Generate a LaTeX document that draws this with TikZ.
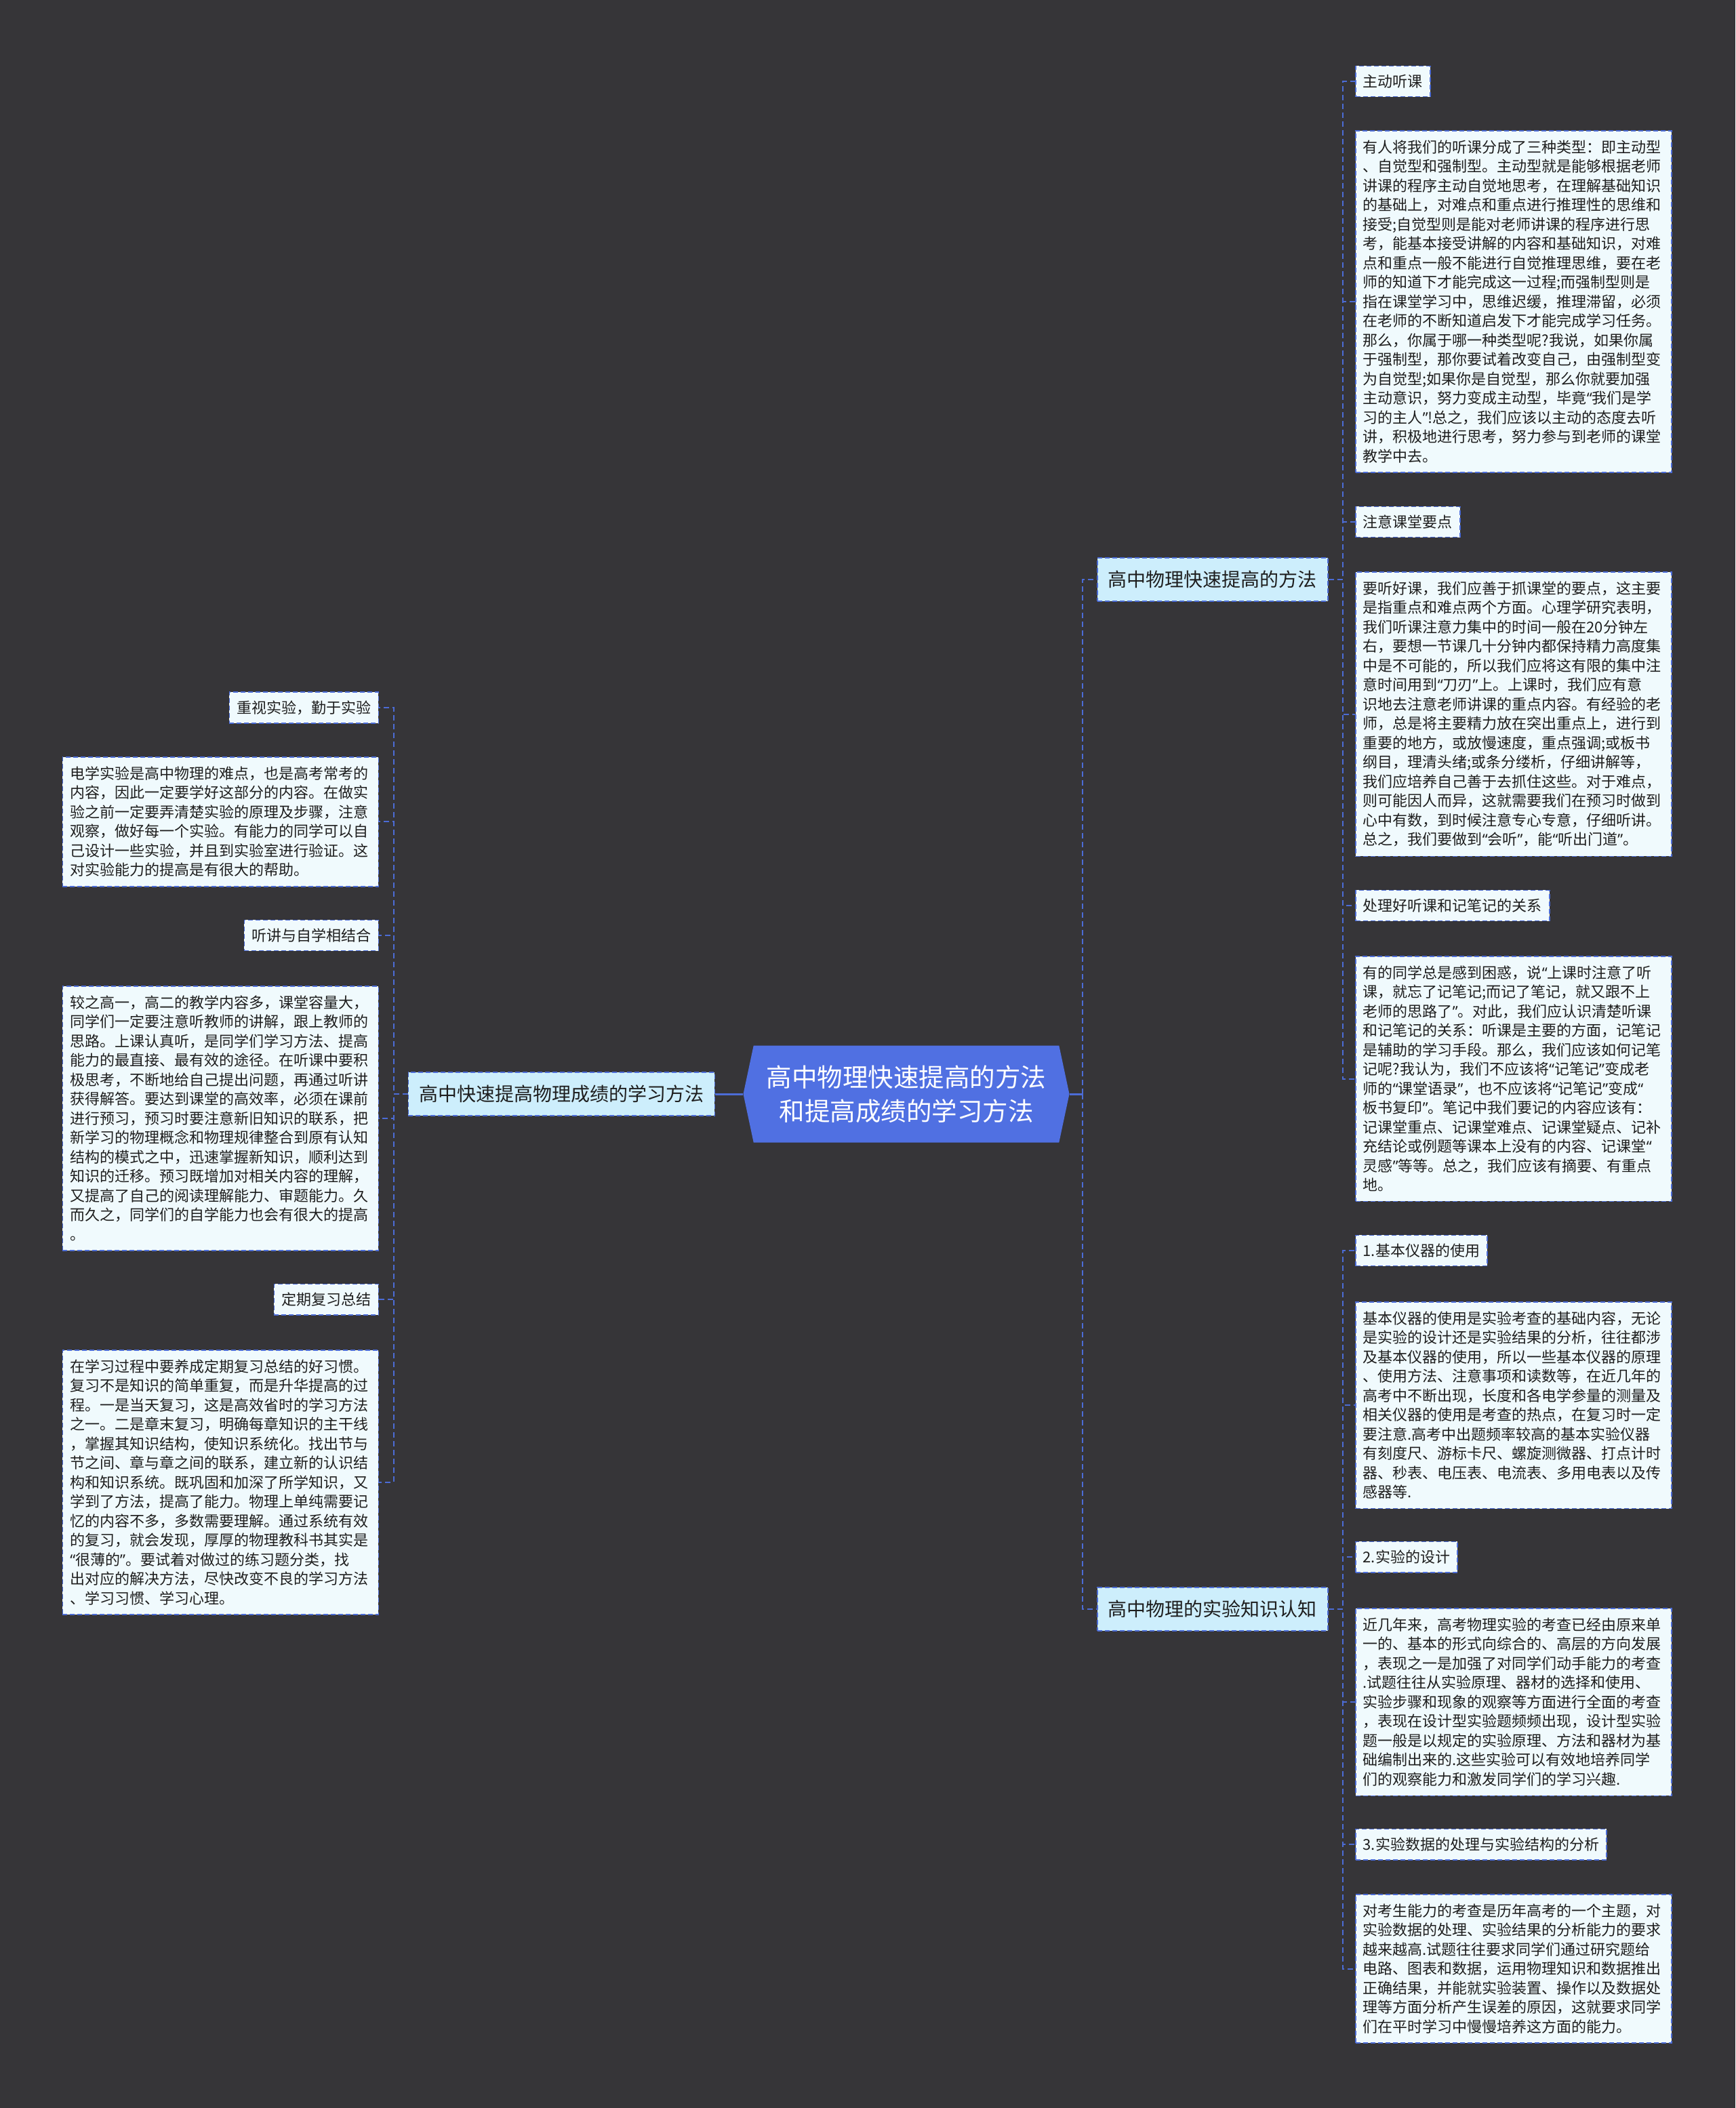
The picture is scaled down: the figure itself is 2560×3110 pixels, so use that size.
\documentclass[tikz,border=0pt]{standalone}
\usepackage{fontspec}
\setmainfont{Noto Sans CJK SC}
\newfontfamily\quotefont{Noto Sans}
\newcommand\qo{{\quotefont “}}
\newcommand\qc{{\quotefont ”}}
\usetikzlibrary{shapes.symbols}

\definecolor{bgdark}{RGB}{54,53,56}
\definecolor{lineblue}{RGB}{76,108,214}
\definecolor{rootblue}{RGB}{80,112,226}
\definecolor{branchfill}{RGB}{205,238,252}
\definecolor{leaffill}{RGB}{240,250,253}
\definecolor{inkdark}{RGB}{30,30,30}

\tikzset{
  leaf/.style={draw=lineblue, dash pattern=on 7pt off 4pt, line width=1.5pt,
    fill=leaffill, text=inkdark, inner xsep=11pt, inner ysep=12.5pt,
    font=\fontsize{22}{28.5}\selectfont},
  note/.style={leaf, text width=444pt, align=left, inner xsep=11pt, inner ysep=14pt},
  branch/.style={leaf, fill=branchfill, inner xsep=16pt, inner ysep=19pt,
    font=\fontsize{28}{34}\selectfont},
  link/.style={draw=lineblue, dash pattern=on 8pt off 5pt, line width=2pt},
  trunk/.style={draw=lineblue, line width=3pt},
}

\begin{document}
\begin{tikzpicture}[x=1pt, y=-1pt]
  \path[use as bounding box, fill=bgdark] (0,0) rectangle (2560,3110);

  % Mitte
  \node[shape=signal, signal to=east and west, signal pointer angle=156,
        fill=rootblue, text=white, minimum width=481pt, minimum height=143pt,
        align=center, font=\fontsize{37.5}{50}\selectfont] (root) at (1337,1614)
       {高中物理快速提高的方法\\和提高成绩的学习方法};

  % Zweige
  \node[branch, anchor=west] (fangfa) at (1618,855) {高中物理快速提高的方法};
  \node[branch, anchor=west] (renzhi) at (1618,2374) {高中物理的实验知识认知};
  \node[branch, anchor=east] (chengji) at (1055,1614) {高中快速提高物理成绩的学习方法};

  % rechts oben
  \node[leaf, anchor=west] (tingke) at (1999,120) {主动听课};
  \node[note, anchor=north west] (tingkeT) at (1999,192) {%
有人将我们的听课分成了三种类型：即主动型\\
、自觉型和强制型。主动型就是能够根据老师\\
讲课的程序主动自觉地思考，在理解基础知识\\
的基础上，对难点和重点进行推理性的思维和\\
接受;自觉型则是能对老师讲课的程序进行思\\
考，能基本接受讲解的内容和基础知识，对难\\
点和重点一般不能进行自觉推理思维，要在老\\
师的知道下才能完成这一过程;而强制型则是\\
指在课堂学习中，思维迟缓，推理滞留，必须\\
在老师的不断知道启发下才能完成学习任务。\\
那么，你属于哪一种类型呢?我说，如果你属\\
于强制型，那你要试着改变自己，由强制型变\\
为自觉型;如果你是自觉型，那么你就要加强\\
主动意识，努力变成主动型，毕竟\qo{}我们是学\\
习的主人\qc{}!总之，我们应该以主动的态度去听\\
讲，积极地进行思考，努力参与到老师的课堂\\
教学中去。};
  \node[leaf, anchor=west] (yaodian) at (1999,770) {注意课堂要点};
  \node[note, anchor=north west] (yaodianT) at (1999,843) {%
要听好课，我们应善于抓课堂的要点，这主要\\
是指重点和难点两个方面。心理学研究表明，\\
我们听课注意力集中的时间一般在20分钟左\\
右，要想一节课几十分钟内都保持精力高度集\\
中是不可能的，所以我们应将这有限的集中注\\
意时间用到\qo{}刀刃\qc{}上。上课时，我们应有意\\
识地去注意老师讲课的重点内容。有经验的老\\
师，总是将主要精力放在突出重点上，进行到\\
重要的地方，或放慢速度，重点强调;或板书\\
纲目，理清头绪;或条分缕析，仔细讲解等，\\
我们应培养自己善于去抓住这些。对于难点，\\
则可能因人而异，这就需要我们在预习时做到\\
心中有数，到时候注意专心专意，仔细听讲。\\
总之，我们要做到\qo{}会听\qc{}，能\qo{}听出门道\qc{}。};
  \node[leaf, anchor=west] (biji) at (1999,1336) {处理好听课和记笔记的关系};
  \node[note, anchor=north west] (bijiT) at (1999,1410) {%
有的同学总是感到困惑，说\qo{}上课时注意了听\\
课，就忘了记笔记;而记了笔记，就又跟不上\\
老师的思路了\qc{}。对此，我们应认识清楚听课\\
和记笔记的关系：听课是主要的方面，记笔记\\
是辅助的学习手段。那么，我们应该如何记笔\\
记呢?我认为，我们不应该将\qo{}记笔记\qc{}变成老\\
师的\qo{}课堂语录\qc{}，也不应该将\qo{}记笔记\qc{}变成\qo\\
板书复印\qc{}。笔记中我们要记的内容应该有：\\
记课堂重点、记课堂难点、记课堂疑点、记补\\
充结论或例题等课本上没有的内容、记课堂\qo\\
灵感\qc{}等等。总之，我们应该有摘要、有重点\\
地。};

  % rechts unten
  \node[leaf, anchor=west] (yiqi) at (1999,1845) {1.基本仪器的使用};
  \node[note, anchor=north west] (yiqiT) at (1999,1920) {%
基本仪器的使用是实验考查的基础内容，无论\\
是实验的设计还是实验结果的分析，往往都涉\\
及基本仪器的使用，所以一些基本仪器的原理\\
、使用方法、注意事项和读数等，在近几年的\\
高考中不断出现，长度和各电学参量的测量及\\
相关仪器的使用是考查的热点，在复习时一定\\
要注意.高考中出题频率较高的基本实验仪器\\
有刻度尺、游标卡尺、螺旋测微器、打点计时\\
器、秒表、电压表、电流表、多用电表以及传\\
感器等.};
  \node[leaf, anchor=west] (sheji) at (1999,2297) {2.实验的设计};
  \node[note, anchor=north west] (shejiT) at (1999,2372) {%
近几年来，高考物理实验的考查已经由原来单\\
一的、基本的形式向综合的、高层的方向发展\\
，表现之一是加强了对同学们动手能力的考查\\
.试题往往从实验原理、器材的选择和使用、\\
实验步骤和现象的观察等方面进行全面的考查\\
，表现在设计型实验题频频出现，设计型实验\\
题一般是以规定的实验原理、方法和器材为基\\
础编制出来的.这些实验可以有效地培养同学\\
们的观察能力和激发同学们的学习兴趣.};
  \node[leaf, anchor=west] (shuju) at (1999,2721) {3.实验数据的处理与实验结构的分析};
  \node[note, anchor=north west] (shujuT) at (1999,2794) {%
对考生能力的考查是历年高考的一个主题，对\\
实验数据的处理、实验结果的分析能力的要求\\
越来越高.试题往往要求同学们通过研究题给\\
电路、图表和数据，运用物理知识和数据推出\\
正确结果，并能就实验装置、操作以及数据处\\
理等方面分析产生误差的原因，这就要求同学\\
们在平时学习中慢慢培养这方面的能力。};

  % links
  \node[leaf, anchor=east] (shiyan) at (559,1044) {重视实验，勤于实验};
  \node[note, anchor=north east] (shiyanT) at (559,1116) {%
电学实验是高中物理的难点，也是高考常考的\\
内容，因此一定要学好这部分的内容。在做实\\
验之前一定要弄清楚实验的原理及步骤，注意\\
观察，做好每一个实验。有能力的同学可以自\\
己设计一些实验，并且到实验室进行验证。这\\
对实验能力的提高是有很大的帮助。};
  \node[leaf, anchor=east] (zixue) at (559,1380) {听讲与自学相结合};
  \node[note, anchor=north east] (zixueT) at (559,1454) {%
较之高一，高二的教学内容多，课堂容量大，\\
同学们一定要注意听教师的讲解，跟上教师的\\
思路。上课认真听，是同学们学习方法、提高\\
能力的最直接、最有效的途径。在听课中要积\\
极思考，不断地给自己提出问题，再通过听讲\\
获得解答。要达到课堂的高效率，必须在课前\\
进行预习，预习时要注意新旧知识的联系，把\\
新学习的物理概念和物理规律整合到原有认知\\
结构的模式之中，迅速掌握新知识，顺利达到\\
知识的迁移。预习既增加对相关内容的理解，\\
又提高了自己的阅读理解能力、审题能力。久\\
而久之，同学们的自学能力也会有很大的提高\\
。};
  \node[leaf, anchor=east] (fuxi) at (559,1917) {定期复习总结};
  \node[note, anchor=north east] (fuxiT) at (559,1991) {%
在学习过程中要养成定期复习总结的好习惯。\\
复习不是知识的简单重复，而是升华提高的过\\
程。一是当天复习，这是高效省时的学习方法\\
之一。二是章末复习，明确每章知识的主干线\\
，掌握其知识结构，使知识系统化。找出节与\\
节之间、章与章之间的联系，建立新的认识结\\
构和知识系统。既巩固和加深了所学知识，又\\
学到了方法，提高了能力。物理上单纯需要记\\
忆的内容不多，多数需要理解。通过系统有效\\
的复习，就会发现，厚厚的物理教科书其实是\\
\qo{}很薄的\qc{}。要试着对做过的练习题分类，找\\
出对应的解决方法，尽快改变不良的学习方法\\
、学习习惯、学习心理。};

  % Verbindungen
  \coordinate (spine) at ([xshift=19pt]root.east);
  \draw[trunk] (root.west) -- (chengji.east);
  \draw[trunk] (root.east) -- (spine);
  \draw[link] (spine) |- (fangfa.west);
  \draw[link] (spine) |- (renzhi.west);

  \draw[link] (fangfa.east) -- ++(21,0) |- (tingke.west);
  \draw[link] (fangfa.east) -- ++(21,0) |- (tingkeT.west);
  \draw[link] (fangfa.east) -- ++(21,0) |- (yaodian.west);
  \draw[link] (fangfa.east) -- ++(21,0) |- (yaodianT.west);
  \draw[link] (fangfa.east) -- ++(21,0) |- (biji.west);
  \draw[link] (fangfa.east) -- ++(21,0) |- (bijiT.west);

  \draw[link] (renzhi.east) -- ++(21,0) |- (yiqi.west);
  \draw[link] (renzhi.east) -- ++(21,0) |- (yiqiT.west);
  \draw[link] (renzhi.east) -- ++(21,0) |- (sheji.west);
  \draw[link] (renzhi.east) -- ++(21,0) |- (shejiT.west);
  \draw[link] (renzhi.east) -- ++(21,0) |- (shuju.west);
  \draw[link] (renzhi.east) -- ++(21,0) |- (shujuT.west);

  \draw[link] (chengji.west) -- ++(-21,0) |- (shiyan.east);
  \draw[link] (chengji.west) -- ++(-21,0) |- (shiyanT.east);
  \draw[link] (chengji.west) -- ++(-21,0) |- (zixue.east);
  \draw[link] (chengji.west) -- ++(-21,0) |- (zixueT.east);
  \draw[link] (chengji.west) -- ++(-21,0) |- (fuxi.east);
  \draw[link] (chengji.west) -- ++(-21,0) |- (fuxiT.east);
\end{tikzpicture}
\end{document}
